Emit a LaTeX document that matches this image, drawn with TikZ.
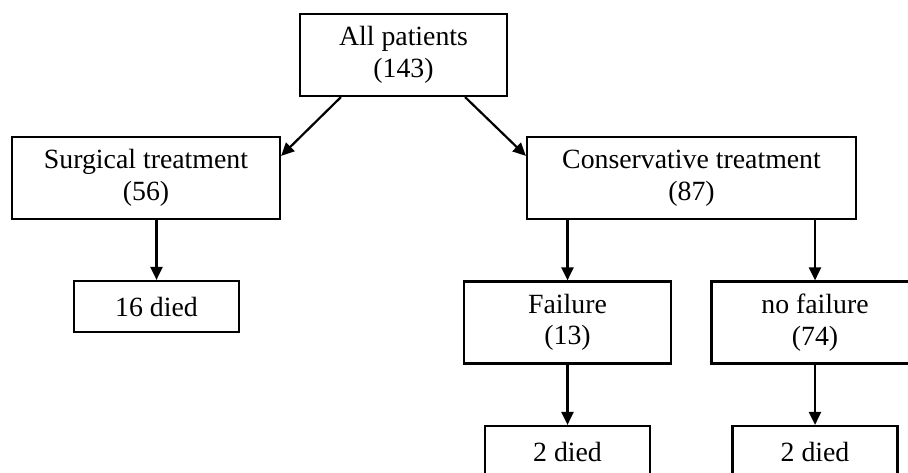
\documentclass[tikz,border=0pt]{standalone}
\usepackage{fontspec}
\setmainfont{Liberation Serif}
\usetikzlibrary{arrows.meta}

\begin{document}
\begin{tikzpicture}[x = 0.5pt, y = -0.5pt, line width = 1.1pt,
                    box/.style = {draw, rectangle, inner sep = 0pt, align = center,
                                  minimum height = 41pt,
                                  font = \fontsize{13.9}{15.8}\selectfont},
                    small/.style = {box, minimum width = 82.5pt, minimum height = 25.5pt},
                    arr/.style = {-{Triangle[length = 6.5pt, width = 6pt]}}]
      \useasboundingbox (0, 0) rectangle (908, 472);
      \clip (0, 0) rectangle (908, 472);
      \node [box, minimum width = 103.5pt] (all) at (403.5, 55) {All patients\\(143)};
      \node [box, minimum width = 134pt] (surg) at (146, 178) {Surgical treatment\\(56)};
      \node [box, minimum width = 164.5pt] (cons) at (691.5, 178) {Conservative treatment\\(87)};
      \node [small] (died1) at (156.5, 306.5) {16 died};
      \node [box, minimum width = 103.5pt] (fail) at (567.5, 322.5) {Failure\\(13)};
      \node [box, minimum width = 103.5pt] (nofail) at (815, 322.5) {no failure\\(74)};
      \node [small] (died2) at (567.5, 451.5) {2 died};
      \node [small] (died3) at (815, 451.5) {2 died};
      \draw [arr] ([xshift = 21pt]all.south west) -- ([yshift = -10pt]surg.north east);
      \draw [arr] ([xshift = -21.5pt]all.south east) -- ([yshift = -10pt]cons.north west);
      \draw [arr] (died1.north |- surg.south) -- (died1.north);
      \draw [arr] (fail.north |- cons.south) -- (fail.north);
      \draw [arr] (nofail.north |- cons.south) -- (nofail.north);
      \draw [arr] (fail) -- (died2);
      \draw [arr] (nofail) -- (died3);
    \end{tikzpicture}
\end{document}
